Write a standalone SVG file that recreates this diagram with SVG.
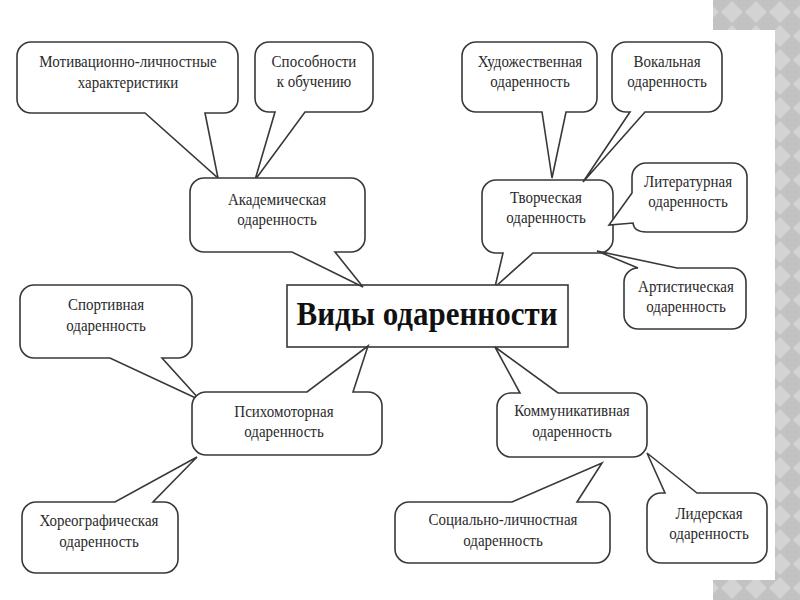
<svg xmlns="http://www.w3.org/2000/svg" width="800" height="600" viewBox="0 0 800 600">
<defs>
<pattern id="dia" width="24" height="24" patternUnits="userSpaceOnUse">
<rect width="24" height="24" fill="#c2c2c2"/>
<path d="M12 1 L23 12 L12 23 L1 12 Z" fill="#d3d3d3"/>
</pattern>
<style>
.b{fill:#fff;stroke:#383838;stroke-width:1.6;stroke-linejoin:miter}
.t{font-family:"Liberation Serif","Times New Roman",serif;font-size:15px;fill:#2a2a2a;text-anchor:middle}
.h{font-family:"Liberation Serif","Times New Roman",serif;font-size:31px;font-weight:bold;fill:#111;text-anchor:middle}
</style>
</defs>
<rect width="800" height="600" fill="#fff"/>
<rect x="713" y="0" width="87" height="600" fill="url(#dia)"/>
<rect x="0" y="30" width="775" height="550" fill="#fff"/>

<g id="creative">
<path class="b" d="M496,180 H599 A14 14 0 0 1 613,194 V239 A14 14 0 0 1 599,253 H533 L495,287 L503,253 H496 A14 14 0 0 1 482,239 V194 A14 14 0 0 1 496,180 Z"/>
<text class="t" transform="translate(546,203) scale(1,1.15)"><tspan x="0" y="0">Творческая</tspan><tspan x="0" y="17.4">одаренность</tspan></text>
</g>

<g id="central">
<rect class="b" x="287" y="285" width="281" height="62" stroke="#222"/>
<text class="h" transform="translate(427,325) scale(1,1.12)">Виды одаренности</text>
</g>

<g id="motivation">
<path class="b" d="M31,42 H224 A14 14 0 0 1 238,56 V99 A14 14 0 0 1 224,113 H205 L218,178 L145,113 H31 A14 14 0 0 1 17,99 V56 A14 14 0 0 1 31,42 Z"/>
<text class="t" transform="translate(128,67) scale(1,1.15)"><tspan x="0" y="0">Мотивационно-личностные</tspan><tspan x="0" y="18.2">характеристики</tspan></text>
</g>

<g id="learning">
<path class="b" d="M269,42 H359 A14 14 0 0 1 373,56 V98 A14 14 0 0 1 359,112 H305 L255,180 L275,112 H269 A14 14 0 0 1 255,98 V56 A14 14 0 0 1 269,42 Z"/>
<text class="t" transform="translate(314,67) scale(1,1.15)"><tspan x="0" y="0">Способности</tspan><tspan x="0" y="17.4">к обучению</tspan></text>
</g>

<g id="academic">
<path class="b" d="M204,178 H351 A14 14 0 0 1 365,192 V238 A14 14 0 0 1 351,252 H335 L363,287 L292,252 H204 A14 14 0 0 1 190,238 V192 A14 14 0 0 1 204,178 Z"/>
<text class="t" transform="translate(277,205) scale(1,1.15)"><tspan x="0" y="0">Академическая</tspan><tspan x="0" y="17.4">одаренность</tspan></text>
</g>

<g id="art">
<path class="b" d="M476,42 H583 A14 14 0 0 1 597,56 V98 A14 14 0 0 1 583,112 H566 L552,178 L542,112 H476 A14 14 0 0 1 462,98 V56 A14 14 0 0 1 476,42 Z"/>
<text class="t" transform="translate(530,67) scale(1,1.15)"><tspan x="0" y="0">Художественная</tspan><tspan x="0" y="17.4">одаренность</tspan></text>
</g>

<g id="vocal">
<path class="b" d="M626,42 H708 A14 14 0 0 1 722,56 V98 A14 14 0 0 1 708,112 H645 L583,182 L630,112 H626 A14 14 0 0 1 612,98 V56 A14 14 0 0 1 626,42 Z"/>
<text class="t" transform="translate(667,67) scale(1,1.15)"><tspan x="0" y="0">Вокальная</tspan><tspan x="0" y="17.4">одаренность</tspan></text>
</g>

<g id="literary">
<path class="b" d="M646,163 H733 A14 14 0 0 1 747,177 V218 A14 14 0 0 1 733,232 H646 Q634,232 633,223 L609,225 L632,193 V177 A14 14 0 0 1 646,163 Z"/>
<text class="t" transform="translate(688,187) scale(1,1.15)"><tspan x="0" y="0">Литературная</tspan><tspan x="0" y="17.4">одаренность</tspan></text>
</g>

<g id="artistic">
<path class="b" d="M638,268 L597,251 L677,268 H732 A14 14 0 0 1 746,282 V315 A14 14 0 0 1 732,329 H638 A14 14 0 0 1 624,315 V282 A14 14 0 0 1 638,268 Z"/>
<text class="t" transform="translate(686,292) scale(1,1.15)"><tspan x="0" y="0">Артистическая</tspan><tspan x="0" y="17.4">одаренность</tspan></text>
</g>

<g id="sport">
<path class="b" d="M34,285 H178 A14 14 0 0 1 192,299 V344 A14 14 0 0 1 178,358 H162 L200,400 L110,358 H34 A14 14 0 0 1 20,344 V299 A14 14 0 0 1 34,285 Z"/>
<text class="t" transform="translate(106,310) scale(1,1.15)"><tspan x="0" y="0">Спортивная</tspan><tspan x="0" y="18.6">одаренность</tspan></text>
</g>

<g id="psychomotor">
<path class="b" d="M206,392 H307 L368,346 L353,392 H368 A14 14 0 0 1 382,406 V441 A14 14 0 0 1 368,455 H206 A14 14 0 0 1 192,441 V406 A14 14 0 0 1 206,392 Z"/>
<text class="t" transform="translate(284,417) scale(1,1.15)"><tspan x="0" y="0">Психомоторная</tspan><tspan x="0" y="17.4">одаренность</tspan></text>
</g>

<g id="choreo">
<path class="b" d="M36,502 H115 L197,457 L153,502 H164 A14 14 0 0 1 178,516 V559 A14 14 0 0 1 164,573 H36 A14 14 0 0 1 22,559 V516 A14 14 0 0 1 36,502 Z"/>
<text class="t" transform="translate(99,526) scale(1,1.15)"><tspan x="0" y="0">Хореографическая</tspan><tspan x="0" y="18.2">одаренность</tspan></text>
</g>

<g id="communicative">
<path class="b" d="M511,393 H520 L495,347 L558,393 H633 A14 14 0 0 1 647,407 V443 A14 14 0 0 1 633,457 H511 A14 14 0 0 1 497,443 V407 A14 14 0 0 1 511,393 Z"/>
<text class="t" transform="translate(572,416) scale(1,1.15)"><tspan x="0" y="0">Коммуникативная</tspan><tspan x="0" y="18.2">одаренность</tspan></text>
</g>

<g id="social">
<path class="b" d="M409,502 H512 L602,463 L577,502 H596 A14 14 0 0 1 610,516 V549 A14 14 0 0 1 596,563 H409 A14 14 0 0 1 395,549 V516 A14 14 0 0 1 409,502 Z"/>
<text class="t" transform="translate(503,525) scale(1,1.15)"><tspan x="0" y="0">Социально-личностная</tspan><tspan x="0" y="18.6">одаренность</tspan></text>
</g>

<g id="leader">
<path class="b" d="M661,493 H665 L647,453 L697,493 H753 A14 14 0 0 1 767,507 V549 A14 14 0 0 1 753,563 H661 A14 14 0 0 1 647,549 V507 A14 14 0 0 1 661,493 Z"/>
<text class="t" transform="translate(709,519) scale(1,1.15)"><tspan x="0" y="0">Лидерская</tspan><tspan x="0" y="17.4">одаренность</tspan></text>
</g>
</svg>
